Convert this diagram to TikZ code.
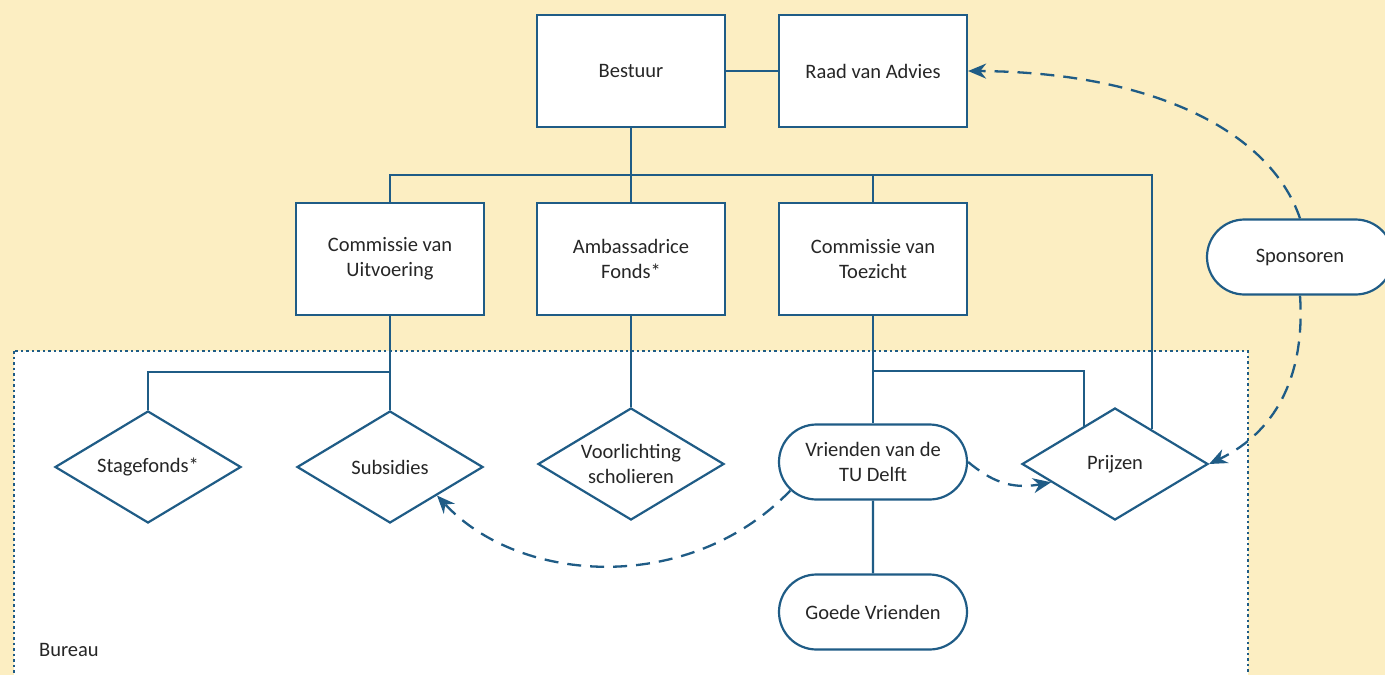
\documentclass[tikz,border=0pt]{standalone}
\usepackage{fontspec}
\setmainfont{Carlito}
\usetikzlibrary{arrows.meta,shapes.geometric,shapes.misc,calc}
\definecolor{boardblue}{RGB}{31,92,134}
\definecolor{sandbg}{RGB}{252,238,194}
\definecolor{textgrey}{RGB}{38,38,38}

\begin{document}
\begin{tikzpicture}
        [x=1pt,y=-1pt,
        every node/.style={draw=boardblue,line width=2.2pt,fill=white,inner sep=0pt,align=center,text=textgrey,font=\fontsize{20.5}{25}\selectfont},
        org-box/.style={rectangle,minimum width=188pt,minimum height=112pt},
        task-diamond/.style={diamond,shape aspect=1.66,minimum width=186pt,minimum height=112pt},
        pill-box/.style={rounded rectangle,minimum width=188pt,minimum height=75pt},
        orgline/.style={line width=2.2pt,boardblue},
        dashedlink/.style={line width=2.3pt,boardblue,dash pattern=on 14pt off 9pt,-{Stealth[length=18pt,width=15pt]}},
        bureau-frame/.style={line width=2pt,boardblue,dash pattern=on 2.5pt off 3pt,fill=white}
        ]
        \useasboundingbox (0,0) rectangle (1385,675);
        \fill[sandbg] (0,0) rectangle (1385,675);
        \draw[bureau-frame] (14,351) rectangle (1248,700);
        \node[org-box] (bestuur) at (631,71) {Bestuur};
        \node[org-box] (raad-van-advies) at (873,71) {Raad van Advies};
        \node[org-box] (cie-uitvoering) at (390,259) {Commissie van\\Uitvoering};
        \node[org-box] (ambassadrice) at (631,259) {Ambassadrice\\Fonds*};
        \node[org-box] (cie-toezicht) at (873,259) {Commissie van\\Toezicht};
        \node[pill-box,minimum width=186pt] (sponsoren) at (1300,257) {Sponsoren};
        \node[task-diamond] (stagefonds) at (148,467) {Stagefonds*};
        \node[task-diamond] (subsidies) at (390,467) {Subsidies};
        \node[task-diamond] (voorlichting) at (631,464) {Voorlichting\\scholieren};
        \node[pill-box] (vrienden) at (873,462) {Vrienden van de\\TU Delft};
        \node[task-diamond] (prijzen) at (1115,464) {Prijzen};
        \node[pill-box] (goede-vrienden) at (873,612) {Goede Vrienden};
        \node[draw=none,fill=none,anchor=west] (bureau) at (38,650) {Bureau};
        \coordinate (bus) at (631,175);
        \coordinate (fork-uitvoering) at (390,372);
        \coordinate (fork-toezicht) at (873,371);
        \draw[orgline] (bestuur) -- (raad-van-advies);
        \draw[orgline] (bestuur) -- (ambassadrice);
        \draw[orgline] (cie-uitvoering.north) |- (bus) -| ($(prijzen.north)!0.39!(prijzen.east)$);
        \draw[orgline] (bus) -| (cie-toezicht.north);
        \draw[orgline] (cie-uitvoering) -- (subsidies);
        \draw[orgline] (fork-uitvoering) -| (stagefonds.north);
        \draw[orgline] (ambassadrice) -- (voorlichting);
        \draw[orgline] (cie-toezicht) -- (vrienden);
        \draw[orgline] (fork-toezicht) -| ($(prijzen.north)!0.33!(prijzen.west)$);
        \draw[orgline] (vrienden) -- (goede-vrienden);
        \draw[dashedlink] (sponsoren.north) .. controls (1270,130) and (1150,72) .. (raad-van-advies.east);
        \draw[dashedlink] (sponsoren.south) .. controls (1305,370) and (1280,430) .. (prijzen.east);
        \draw[dashedlink] (vrienden.east) .. controls (990,480) and (1010,490) .. ($(prijzen.west)!0.32!(prijzen.south)$);
        \draw[dashedlink] (vrienden.199) .. controls (690,595) and (520,585) .. ($(subsidies.east)!0.5!(subsidies.south)$);
    \end{tikzpicture}
\end{document}
